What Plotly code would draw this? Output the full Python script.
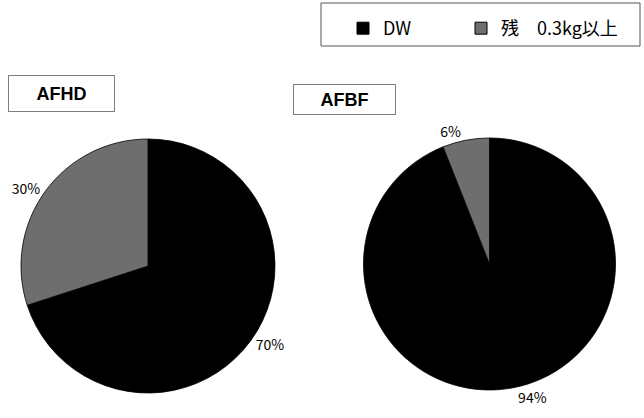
import plotly.graph_objects as go

# Share of DW versus residue of 0.3 kg or more, per line
categories = ["DW", "残　0.3kg以上"]
afhd_values = [70, 30]
afbf_values = [94, 6]
panel_titles = ["AFHD", "AFBF"]
slice_colors = ["#000000", "#6e6e6e"]

FONT_JP = "Noto Sans CJK JP"

fig = go.Figure()

pie_common = dict(
    labels=categories,
    sort=False,
    direction="clockwise",
    rotation=0,
    textposition="outside",
    texttemplate="%{value}%",
    textfont=dict(family=FONT_JP, size=14, color="#000000"),
    marker=dict(colors=slice_colors, line=dict(color="#000000", width=0.8)),
    hoverinfo="label+percent",
    showlegend=False,
)

fig.add_trace(go.Pie(values=afhd_values, name=panel_titles[0],
                     domain=dict(x=[0.0326, 0.427], y=[0.0598, 0.6675]),
                     **pie_common))
fig.add_trace(go.Pie(values=afbf_values, name=panel_titles[1],
                     domain=dict(x=[0.5637, 0.9565], y=[0.067, 0.6699]),
                     **pie_common))

# Legend keys: one entry per category, each in its own legend box so the
# two keys can sit at fixed spacing inside the shared frame
legend_ids = ["legend", "legend2"]
for cat, col, lid in zip(categories, slice_colors, legend_ids):
    fig.add_trace(go.Scatter(
        x=[None], y=[None], mode="markers", name=cat, legend=lid,
        marker=dict(symbol="square", size=12, color=col,
                    line=dict(color="#000000", width=1)),
        showlegend=True, hoverinfo="skip",
    ))

# Panel title boxes
title_boxes = [
    (8 / 644, 1 - 75 / 418, 103, 33),
    (293 / 644, 1 - 84 / 418, 99, 27),
]
for title, (tx, ty, bw, bh) in zip(panel_titles, title_boxes):
    fig.add_annotation(
        text=f"<b>{title}</b>", x=tx, y=ty, xref="paper", yref="paper",
        xanchor="left", yanchor="top", showarrow=False,
        font=dict(family="Liberation Sans", size=18, color="#000000"),
        bgcolor="#ffffff", bordercolor="#7f7f7f", borderwidth=1,
        width=bw, height=bh, align="center",
    )

# Frame around the legend keys
fig.add_shape(type="rect", xref="paper", yref="paper",
              x0=321 / 644, x1=640 / 644, y0=1 - 46 / 418, y1=1 - 3 / 418,
              line=dict(color="#555555", width=1), fillcolor="rgba(0,0,0,0)")

legend_style = dict(
    orientation="h", xref="container", yref="container",
    xanchor="left", yanchor="middle",
    font=dict(family=FONT_JP, size=18, color="#000000"),
    bgcolor="rgba(0,0,0,0)", borderwidth=0,
)

fig.update_layout(
    width=644, height=418,
    margin=dict(l=0, r=0, t=0, b=0, autoexpand=False),
    paper_bgcolor="#ffffff",
    plot_bgcolor="#ffffff",
    xaxis=dict(visible=False),
    yaxis=dict(visible=False),
    legend=dict(x=343 / 644, y=1 - 28.5 / 418, **legend_style),
    legend2=dict(x=461 / 644, y=1 - 28.5 / 418, **legend_style),
)

fig.write_html("out.html")
